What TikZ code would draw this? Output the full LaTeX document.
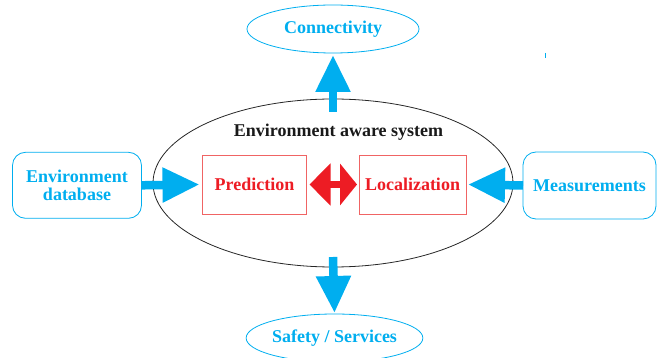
\documentclass[tikz,border=0pt]{standalone}
\usepackage{fontspec}
\setmainfont{Liberation Serif}
\usetikzlibrary{shapes.geometric,arrows.meta}
\definecolor{cyanc}{RGB}{0,174,239}
\definecolor{redc}{RGB}{237,28,36}
\definecolor{redbox}{RGB}{240,100,100}
\begin{document}
\begin{tikzpicture}[x=1pt,y=-1pt,
  every node/.style={font=\fontsize{18}{19}\selectfont\bfseries, inner sep=0pt, outer sep=0pt},
  outell/.style={ellipse, draw=cyanc, line width=0.8pt, text=cyanc, minimum width=172pt, minimum height=48pt},
  sidebox/.style={rounded corners=13pt, draw=cyanc, line width=0.8pt, text=cyanc, align=center},
  redboxs/.style={rectangle, draw=redbox, line width=0.8pt, text=redc, minimum height=59pt},
  bigarrow/.style={draw=cyanc, line width=8.5pt, -{Triangle[length=37pt,width=33pt]}},
  dblarrow/.style={draw=redc, line width=6.6pt, {Triangle[length=21pt,width=41pt]}-{Triangle[length=17pt,width=41pt]}}
]
\useasboundingbox (0,0) rectangle (659,358);

\node[ellipse, draw=black!85, line width=0.8pt, minimum width=360pt, minimum height=168pt] (big) at (333,183) {};
\node[text=black!90] (title) at (338.5,132) {Environment aware system};

\node[redboxs, minimum width=104pt] (pred) at (254.5,184.5) {Prediction};
\node[redboxs, minimum width=107pt] (loc) at (412.5,184.5) {Localization};

\node[outell] (conn) at (333,29) {Connectivity};
\node[outell, minimum width=175pt] (safe) at (334.5,338) {Safety / Services};

\node[sidebox, minimum width=129pt, minimum height=66pt] (envdb) at (77,185.3) {Environment\\[-1pt]database};
\node[sidebox, minimum width=133pt, minimum height=67pt] (meas) at (589.5,185.5) {Measurements};

\draw[bigarrow] ([yshift=-13pt]big.north) -- ([yshift=-2pt]conn.south);
\draw[bigarrow] ([yshift=10pt]big.south) -- ([yshift=1pt]safe.north);
\draw[bigarrow] (envdb.east) -- ([xshift=-3pt]pred.west);
\draw[bigarrow] (meas.west) -- ([xshift=2pt]loc.east);
\draw[dblarrow] ([xshift=3pt]pred.east) -- ([xshift=-2pt]loc.west);

\draw[cyanc, line width=0.6pt] (545,53) -- (545,58);
\end{tikzpicture}
\end{document}
